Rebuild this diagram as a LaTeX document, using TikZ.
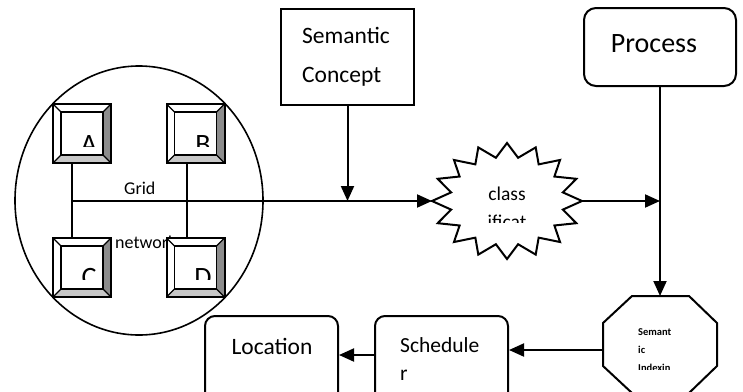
\documentclass[tikz,border=0pt]{standalone}
\usepackage{fontspec}
\setmainfont{Carlito}
\usetikzlibrary{arrows.meta,calc}
\tikzset{
  conn/.style={line width=2pt},
  arr/.style={conn,-{Triangle[length=15pt,width=13pt]}},
  sqbox/.style={draw,line width=2pt,inner sep=0pt},
  rbox/.style={draw,line width=2pt,rounded corners=12pt,inner sep=0pt},
  keyfr/.style={minimum width=58pt,minimum height=59pt,inner sep=0pt,outer sep=0pt},
  lbl/.style={anchor=base west,inner sep=0pt},
  clbl/.style={anchor=base,inner sep=0pt},
  ringline/.style={line width=1.6pt},
}
\newcommand\bevelkey[1]{%
  \fill[white] (#1.north west) rectangle (#1.south east);
  \fill[white] (#1.north west) -- (#1.north east) -- ($(#1.north east)+(-8,8)$) -- ($(#1.north west)+(8,8)$) -- cycle;
  \fill[black!45] (#1.north east) -- (#1.south east) -- ($(#1.south east)+(-8,-8)$) -- ($(#1.north east)+(-8,8)$) -- cycle;
  \fill[black!22] (#1.south west) -- (#1.south east) -- ($(#1.south east)+(-8,-8)$) -- ($(#1.south west)+(8,-8)$) -- cycle;
  \draw[line width=1.2pt] ($(#1.north west)+(8,8)$) rectangle ($(#1.south east)+(-8,-8)$);
  \draw[line width=1.2pt] (#1.north west) -- ($(#1.north west)+(8,8)$)
    (#1.north east) -- ($(#1.north east)+(-8,8)$)
    (#1.south west) -- ($(#1.south west)+(8,-8)$)
    (#1.south east) -- ($(#1.south east)+(-8,-8)$);
  \draw[line width=2pt] (#1.north west) rectangle (#1.south east);
}
\begin{document}
\begin{tikzpicture}[x=1pt,y=-1pt]
\useasboundingbox (0,0) rectangle (743,391);

% grid network ring
\draw[ringline] (139,200.5) ellipse [x radius=124, y radius=134.5];

\node[keyfr] (A) at (82,133.5) {};
\node[keyfr] (B) at (195.5,133.5) {};
\node[keyfr] (C) at (82,267.5) {};
\node[keyfr] (D) at (195.5,267.5) {};

\coordinate (gl) at (72,201);
\draw[ringline] (A.south -| gl) -- (C.north -| gl);
\draw[ringline] (B.south -| 187,0) -- (D.north -| 187,0);

\node[lbl,font=\fontsize{18}{22}\selectfont] (grid) at (124,194) {Grid};
\node[lbl,font=\fontsize{18}{22}\selectfont] (net) at (115,248) {network};

\bevelkey{A}
\bevelkey{B}
\bevelkey{C}
\bevelkey{D}

\begin{scope}
  \clip (60,120) rectangle (104,146);
  \node[clbl,font=\fontsize{28}{32}\selectfont] (la) at (89,153) {A};
\end{scope}
\begin{scope}
  \clip (174,120) rectangle (218,146);
  \node[clbl,font=\fontsize{28}{32}\selectfont] (lb) at (203,153) {B};
\end{scope}
\begin{scope}
  \clip (60,250) rectangle (104,279);
  \node[clbl,font=\fontsize{28}{32}\selectfont] (lc) at (89,286) {C};
\end{scope}
\begin{scope}
  \clip (174,250) rectangle (218,279);
  \node[clbl,font=\fontsize{28}{32}\selectfont] (ld) at (203,286) {D};
\end{scope}

% Semantic Concept
\node[sqbox,minimum width=133pt,minimum height=96pt] (sc) at (347.5,57) {};
\node[lbl,font=\fontsize{23.5}{28}\selectfont] (sc1) at (302,43) {Semantic};
\node[lbl,font=\fontsize{23.5}{28}\selectfont] (sc2) at (302,82) {Concept};

% star (classification)
\coordinate (stc) at (507,201);
\draw[line width=2pt,fill=white] ($(stc)+(75,0)$)
  \foreach \i in {1,...,31} {
    -- ($(stc)+({ifthenelse(isodd(\i),0.76,1)*75*cos(\i*11.25)},{ifthenelse(isodd(\i),0.76,1)*58*sin(\i*11.25)})$)
  } -- cycle;
\coordinate (stl) at (432,201);
\coordinate (str) at (582,201);
\begin{scope}
  \clip (460,180) rectangle (555,222);
  \node[clbl,font=\fontsize{19.5}{22}\selectfont] (cl1) at (507,200) {class};
  \node[clbl,font=\fontsize{19.5}{22}\selectfont] (cl2) at (507,228) {ificat};
\end{scope}

% Process
\node[rbox,minimum width=152pt,minimum height=78pt] (proc) at (660,47) {};
\node[clbl,font=\fontsize{28}{32}\selectfont] (proct) at (654,52) {Process};

% octagon (Semantic Indexing)
\coordinate (octt) at (660,296);
\coordinate (octl) at (603,350);
\draw[line width=2pt] (632,296) -- (689,296) -- (717,323) -- (717,366) -- (689,393)
  -- (632,393) -- (603,366) -- (603,323) -- cycle;
\begin{scope}
  \clip (610,300) rectangle (712,369);
  \node[lbl,font=\bfseries\fontsize{10.5}{12}\selectfont] (si1) at (638,335) {Semant};
  \node[lbl,font=\bfseries\fontsize{10.5}{12}\selectfont] (si2) at (638,353) {ic};
  \node[lbl,font=\bfseries\fontsize{10.5}{12}\selectfont] (si3) at (638,371) {Indexin};
\end{scope}

% Scheduler and Location
\node[rbox,rounded corners=10pt,minimum width=133pt,minimum height=100pt] (sched) at (441.5,366) {};
\node[lbl,font=\fontsize{21.5}{26}\selectfont] (sch1) at (400,352) {Schedule};
\node[lbl,font=\fontsize{21.5}{26}\selectfont] (sch2) at (400,380) {r};
\node[rbox,rounded corners=10pt,minimum width=133pt,minimum height=100pt] (loc) at (271.5,366) {};
\node[clbl,font=\fontsize{23.5}{28}\selectfont] (loct) at (272,354) {Location};

% connectors
\draw[arr] (gl) -- (stl);
\draw[arr] (sc.south) -- (sc.south |- stl);
\draw[arr] (str) -- (proc.south |- str);
\draw[arr] (proc.south) -- (octt);
\draw[arr] (octl) -- (octl -| sched.east);
\coordinate (sl) at (375,355);
\draw[arr] (sl) -- (sl -| loc.east);
\end{tikzpicture}
\end{document}
